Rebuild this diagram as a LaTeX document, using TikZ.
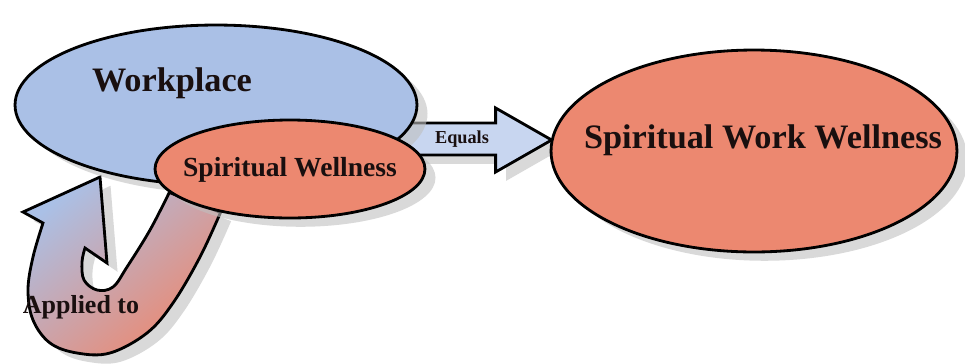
\documentclass[tikz,border=0pt]{standalone}
\usepackage{fontspec}
\setmainfont{Liberation Serif}
\usetikzlibrary{calc,shapes.geometric,shadows,backgrounds}
\definecolor{wpblue}{RGB}{170,192,230}
\definecolor{swred}{RGB}{236,136,112}
\definecolor{eqblue}{RGB}{200,214,240}
\definecolor{fadepink}{RGB}{232,196,210}
\definecolor{inkdark}{RGB}{25,15,15}

\begin{document}
\begin{tikzpicture}[x=0.02cm,y=-0.02cm,
    bubble/.style={
    % The shape:
    ellipse,inner sep=0pt,
    % The rest
    line width=1.6pt,draw=black,
    drop shadow={shadow xshift=6pt,shadow yshift=-5pt,fill=black!25,opacity=.6}},
    blockarrow/.style={
    line width=1.6pt,draw=black,line join=miter,
    drop shadow={shadow xshift=6pt,shadow yshift=-5pt,fill=black!25,opacity=.6}},
    caption/.style={inner sep=0pt,text=inkdark,font=\fontsize{#1}{#1}\selectfont\bfseries}]
  \useasboundingbox (0,0) rectangle (965,363);
  \node (wp) [bubble,fill=wpblue,minimum width=8.04cm,minimum height=3.2cm] at (216,105) {};
  \node (sw) [bubble,fill=swred,minimum width=5.4cm,minimum height=1.96cm] at (290,169) {};
  \node (sww) [bubble,fill=swred,minimum width=8.12cm,minimum height=4.04cm] at (754,151) {};
  \begin{scope}[on background layer]
    % Equals
    \coordinate (eqtip) at ($(sww.west)+(2,-11)$);
    \draw[blockarrow,fill=eqblue] (eqtip) -- ++(-56,-32) -- ++(0,15) -- ++(-100,0)
      -- ++(0,32) -- ++(100,0) -- ++(0,17) -- cycle;
    % Applied to
    \coordinate (applytip) at (100,177);
    \draw[blockarrow,top color=wpblue,middle color=fadepink,bottom color=swred,shading angle=40]
      plot[smooth,tension=.6] coordinates {(sw.212) (200,257) (173,303) (147,333)
        (110,353) (77,353) (50,343) (33,320) (28,290) (33,257) (43,223)}
      -- (23,212) -- (applytip) -- (107,263)
      -- plot[smooth,tension=.6] coordinates {(85,248) (82,262) (84,280) (97,290)
        (113,287) (127,267) (150,230) (sw.191)} -- cycle;
  \end{scope}
  \node (wptext) [caption=19.5] at (172,83) {Workplace};
  \node (swtext) [caption=15.7] at (290,170) {Spiritual Wellness};
  \node (swwtext) [caption=19.5] at (763,140) {Spiritual Work Wellness};
  \node (eqtext) [caption=10.4] at (462,139) {Equals};
  \node (aptext) [caption=14.8] at (81,307) {Applied to};
\end{tikzpicture}
\end{document}
